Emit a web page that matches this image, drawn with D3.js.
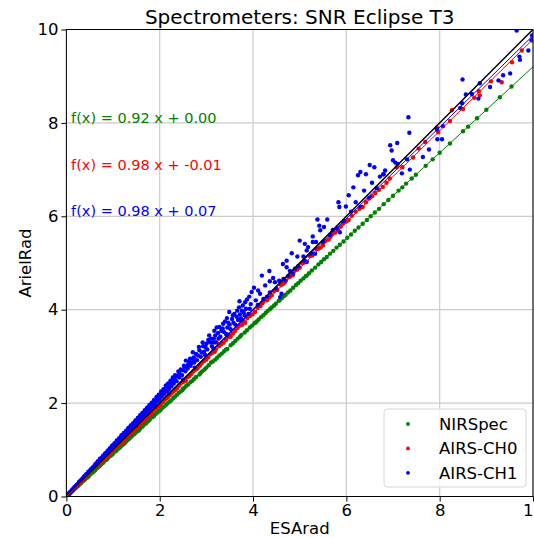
<!DOCTYPE html>
<html>
<head>
<meta charset="utf-8">
<script src="https://cdn.jsdelivr.net/npm/d3@7"></script>
<style>
  body { margin: 0; background: #fff; }
  svg { font-family: "DejaVu Sans", sans-serif; }
</style>
</head>
<body>
<div id="chart"></div>
<script>
// Series names and fitted lines (slope, intercept)
const seriesNames = ['NIRSpec', 'AIRS-CH0', 'AIRS-CH1'];
const seriesColors = ['#008000', '#ff0000', '#0000ff'];
const fitSlopes = [0.92, 0.98, 0.98];
const fitIntercepts = [0.00, -0.01, 0.07];
const ticks = [0, 2, 4, 6, 8, 10];

// [ESArad, ArielRad]
const nirspec = [
  [0.03,0.03],[0.06,0.05],[0.09,0.08],[0.12,0.11],[0.16,0.15],[0.2,0.18],[0.24,0.22],[0.28,0.26],
  [0.32,0.29],[0.36,0.33],[0.4,0.37],[0.44,0.4],[0.48,0.44],[0.5,0.47],[0.53,0.49],[0.57,0.52],
  [0.62,0.57],[0.66,0.61],[0.7,0.66],[0.71,0.65],[0.75,0.69],[0.8,0.74],[0.85,0.78],[0.9,0.83],
  [0.95,0.87],[1.0,0.92],[1.06,0.97],[1.11,1.02],[1.15,1.05],[1.17,1.08],[1.22,1.12],[1.28,1.18],
  [1.34,1.23],[1.4,1.29],[1.46,1.34],[1.52,1.4],[1.55,1.41],[1.58,1.45],[1.65,1.52],[1.71,1.57],
  [1.78,1.64],[1.8,1.67],[1.85,1.7],[1.92,1.77],[1.99,1.83],[2.06,1.9],[2.14,1.97],[2.21,2.03],
  [2.25,2.06],[2.29,2.11],[2.37,2.18],[2.45,2.25],[2.5,2.31],[2.53,2.33],[2.61,2.4],[2.7,2.48],
  [2.78,2.56],[2.85,2.61],[2.87,2.64],[2.96,2.72],[3.05,2.81],[3.1,2.87],[3.14,2.89],[3.23,2.97],
  [3.33,3.06],[3.42,3.15],[3.45,3.16],[3.52,3.24],[3.62,3.33],[3.72,3.42],[3.75,3.46],[3.82,3.51],
  [3.93,3.62],[4.03,3.71],[4.05,3.72],[4.12,3.79],[4.22,3.88],[4.31,3.97],[4.4,4.05],[4.49,4.13],
  [4.55,4.19],[4.57,4.2],[4.66,4.29],[4.75,4.37],[4.8,4.41],[4.86,4.47],[4.97,4.57],[5.08,4.67],
  [5.15,4.73],[5.2,4.78],[5.33,4.9],[5.46,5.02],[5.58,5.13],[5.72,5.26],[5.86,5.39],[6.02,5.54],
  [6.18,5.69],[6.35,5.84],[6.52,6.0],[6.7,6.16],[6.9,6.35],[7.12,6.55],[7.28,6.7],[7.4,6.81],
  [7.49,6.89],[7.7,7.08],[7.85,7.22],[8.0,7.36],[8.22,7.56],[8.5,7.82],[8.61,7.92],[8.8,8.1],
  [9.0,8.28],[9.29,8.55],[9.54,8.78],
  [0.14,0.13],[0.26,0.24],[0.38,0.35],[0.46,0.42],[0.59,0.54],[0.68,0.63],[0.78,0.72],[0.87,0.8],
  [0.98,0.9],[1.08,1.0],[1.19,1.1],[1.25,1.14],[1.31,1.21],[1.37,1.26],[1.43,1.32],[1.49,1.37],
  [1.62,1.49],[1.68,1.55],[1.75,1.61],[1.88,1.73],[1.95,1.8],[2.02,1.85],[2.1,1.93],[2.17,2.0],
  [2.33,2.14],[2.41,2.22],[2.49,2.28],[2.57,2.37],[2.66,2.45],[2.74,2.52],[2.91,2.68],[3.0,2.76],
  [3.19,2.93],[3.28,3.02],[3.38,3.11],[3.57,3.28],[3.67,3.38],[3.87,3.56],[3.98,3.66],[4.08,3.75],
  [4.17,3.84],[4.27,3.93],[4.36,4.01],[4.45,4.09],[4.62,4.25],[4.7,4.32],[4.92,4.53],[5.02,4.62],
  [5.13,4.72],[5.26,4.84],[5.4,4.97],[5.52,5.08],[5.65,5.2],[5.79,5.33],[5.94,5.46],[6.1,5.61],
  [6.26,5.76],[6.44,5.92],[6.61,6.08],[6.8,6.26],[7.0,6.44],[7.2,6.62]
];

const airsCh0 = [
  [0.04,0.04],[0.08,0.07],[0.12,0.11],[0.17,0.16],[0.21,0.2],[0.26,0.25],[0.3,0.29],[0.35,0.34],
  [0.4,0.38],[0.45,0.44],[0.5,0.48],[0.55,0.54],[0.6,0.58],[0.66,0.64],[0.71,0.69],[0.77,0.75],
  [0.82,0.8],[0.88,0.85],[0.94,0.92],[1.0,0.97],[1.06,1.04],[1.12,1.09],[1.18,1.16],[1.21,1.13],
  [1.25,1.22],[1.31,1.29],[1.38,1.34],[1.44,1.42],[1.51,1.47],[1.58,1.55],[1.65,1.61],[1.72,1.69],
  [1.79,1.75],[1.87,1.84],[1.94,1.9],[2.02,1.98],[2.1,2.07],[2.17,2.12],[2.25,2.21],[2.33,2.28],
  [2.41,2.37],[2.5,2.45],[2.56,2.48],[2.6,2.56],[2.68,2.63],[2.77,2.72],[2.86,2.8],[2.95,2.9],
  [2.99,3.02],[3.04,2.98],[3.13,3.08],[3.2,3.15],[3.22,3.3],[3.32,3.26],[3.42,3.35],[3.5,3.45],
  [3.52,3.42],[3.62,3.55],[3.72,3.66],[3.8,3.76],[3.83,3.72],[3.94,3.87],[4.04,3.95],[4.1,4.04],
  [4.16,4.08],[4.25,4.2],[4.3,4.2],[4.4,4.31],[4.45,4.4],[4.52,4.42],[4.6,4.53],[4.68,4.58],
  [4.76,4.7],[4.85,4.74],[4.9,4.85],[5.0,4.9],[5.05,5.0],[5.15,5.03],[5.22,5.15],[5.3,5.2],
  [5.36,5.3],[5.45,5.33],[5.55,5.47],[5.62,5.5],[5.7,5.62],[5.82,5.7],[5.93,5.85],[6.05,5.92],
  [6.2,6.1],[6.35,6.2],[6.48,6.38],[6.62,6.5],[6.78,6.63],[6.93,6.81],[7.08,7.05],[7.2,7.05],
  [7.43,7.26],[7.55,7.45],[7.69,7.59],[7.94,7.9],[7.97,7.8],[8.22,8.04],[8.26,8.27],[8.5,8.3],
  [8.74,8.54],[8.84,8.68],[8.86,8.59],[9.1,8.89],[9.33,8.87],[9.55,9.3],[9.76,9.55],[10.0,9.77],
  [0.14,0.14],[0.24,0.23],[0.33,0.33],[0.42,0.41],[0.48,0.47],[0.58,0.57],[0.63,0.62],[0.69,0.68],
  [0.74,0.72],[0.8,0.79],[0.85,0.83],[0.91,0.89],[0.97,0.95],[1.03,1.0],[1.09,1.07],[1.15,1.12],
  [1.28,1.25],[1.35,1.33],[1.41,1.37],[1.48,1.45],[1.55,1.51],[1.62,1.59],[1.69,1.65],[1.76,1.73],
  [1.83,1.78],[1.91,1.88],[1.98,1.93],[2.06,2.02],[2.14,2.1],[2.21,2.17],[2.29,2.25],[2.37,2.31],
  [2.45,2.42],[2.54,2.49],[2.64,2.58],[2.72,2.68],[2.81,2.74],[2.9,2.86],[3.0,2.93],[3.09,3.05],
  [3.18,3.1],[3.27,3.22],[3.37,3.29],[3.47,3.42],[3.57,3.49],[3.67,3.61],[3.77,3.68],[3.88,3.82],
  [3.99,3.9],[4.2,4.14],[4.35,4.26],[4.5,4.44],[4.64,4.55],[4.8,4.71],[4.95,4.86],[5.1,5.01],
  [5.27,5.16],[5.41,5.31],[5.5,5.38],[5.66,5.56],[5.76,5.65],[5.88,5.78],[6.0,5.89],[6.12,6.01],
  [6.28,6.16],[6.42,6.3],[6.55,6.43],[6.7,6.57],[6.86,6.72]
];

const airsCh1 = [
  [0.02,0.03],[0.05,0.06],[0.07,0.08],[0.1,0.11],[0.12,0.14],[0.15,0.16],[0.17,0.2],[0.2,0.22],
  [0.22,0.25],[0.25,0.27],[0.27,0.31],[0.3,0.33],[0.32,0.36],[0.35,0.38],[0.37,0.42],[0.4,0.44],
  [0.42,0.47],[0.45,0.49],[0.47,0.53],[0.5,0.54],[0.52,0.58],[0.55,0.6],[0.57,0.63],[0.6,0.65],
  [0.62,0.69],[0.65,0.71],[0.67,0.75],[0.7,0.76],[0.72,0.81],[0.75,0.82],[0.78,0.86],[0.8,0.88],
  [0.83,0.92],[0.85,0.93],[0.88,0.97],[0.9,0.99],[0.93,1.03],[0.95,1.04],[0.98,1.09],[1.0,1.1],
  [1.03,1.14],[1.05,1.13],[1.08,1.2],[1.1,1.17],[1.13,1.25],[1.15,1.22],[1.18,1.31],[1.2,1.27],
  [1.23,1.36],[1.25,1.31],[1.28,1.41],[1.3,1.38],[1.33,1.47],[1.35,1.42],[1.38,1.52],[1.4,1.48],
  [1.43,1.57],[1.45,1.52],[1.48,1.63],[1.5,1.58],[1.53,1.68],[1.55,1.62],[1.58,1.74],[1.6,1.68],
  [1.63,1.79],[1.65,1.73],[1.68,1.85],[1.7,1.78],[1.73,1.9],[1.75,1.83],[1.78,1.96],[1.8,1.89],
  [1.83,2.01],[1.85,1.94],[1.88,2.07],[1.9,1.99],[1.93,2.13],[1.95,2.04],[1.98,2.18],[2.0,2.09],
  [2.03,2.25],[2.05,2.15],[2.08,2.3],[2.1,2.2],[2.13,2.38],[2.15,2.26],[2.18,2.42],[2.2,2.3],
  [2.23,2.48],[2.25,2.36],[2.28,2.55],[2.3,2.42],[2.33,2.6],[2.36,2.47],[2.4,2.68],[2.42,2.55],
  [2.45,2.72],[2.48,2.6],[2.52,2.8],[2.55,2.68],[2.56,2.91],[2.6,2.74],[2.63,2.88],[2.66,2.8],
  [2.71,3.09],[2.7,2.95],[2.74,2.87],[2.78,3.05],[2.8,2.92],[2.85,3.13],[2.88,2.99],[2.92,3.3],
  [2.95,3.1],[2.98,3.2],[3.02,3.15],[3.06,3.45],[3.08,3.3],[3.12,3.22],[3.17,3.55],[3.16,3.38],
  [3.2,3.3],[3.25,3.5],[3.28,3.63],[3.3,3.42],[3.35,3.6],[3.38,3.52],[3.4,3.75],[3.45,3.62],
  [3.49,3.95],[3.5,3.68],[3.55,3.8],[3.6,3.91],[3.58,3.72],[3.65,3.85],[3.7,4.05],[3.71,4.18],
  [3.72,3.9],[3.76,3.98],[3.78,4.09],[3.8,3.95],[3.83,4.16],[3.85,4.02],[3.9,3.91],[3.93,4.02],
  [3.95,4.12],[4.02,4.47],[4.06,4.2],[4.1,4.1],[4.11,4.41],[4.15,4.34],[4.19,4.73],[4.22,4.23],
  [4.26,4.52],[4.3,4.28],[4.35,4.83],[4.36,4.61],[4.36,4.37],[4.43,4.68],[4.47,4.59],[4.5,4.45],
  [4.56,4.62],[4.58,4.27],[4.61,4.34],[4.64,4.98],[4.65,4.66],[4.7,4.62],[4.72,4.91],[4.72,5.05],
  [4.76,4.73],[4.79,4.83],[4.83,5.21],[4.86,4.77],[4.9,4.88],[4.95,5.14],[4.97,4.93],[5.0,5.48],
  [5.08,5.14],[5.1,5.05],[5.11,5.41],[5.15,5.27],[5.15,5.02],[5.18,5.34],[5.25,5.2],[5.28,5.57],
  [5.28,5.45],[5.33,5.2],[5.35,5.45],[5.38,5.93],[5.42,5.8],[5.44,5.7],[5.5,5.45],[5.52,5.77],
  [5.59,5.93],[5.65,5.6],[5.71,5.71],[5.8,5.74],[5.83,6.3],[5.85,6.2],[5.86,5.66],[5.95,5.9],
  [5.99,6.21],[6.05,6.45],[6.1,6.1],[6.15,6.62],[6.2,6.3],[6.25,6.88],[6.3,6.2],[6.3,6.95],
  [6.38,6.55],[6.42,6.9],[6.5,6.4],[6.5,7.1],[6.55,6.72],[6.6,7.05],[6.65,6.6],[6.72,6.85],
  [6.79,6.9],[6.8,6.9],[6.83,6.98],[6.94,7.52],[6.97,7.41],[7.0,7.2],[7.05,7.15],[7.09,7.57],
  [7.1,7.12],[7.19,6.92],[7.3,7.22],[7.33,8.12],[7.35,7.79],[7.36,7.0],[7.64,7.27],[7.77,7.43],
  [7.94,7.86],[7.95,7.65],[8.05,7.65],[8.07,7.93],[8.44,8.32],[8.48,8.42],[8.49,8.93],[8.56,8.61],
  [8.69,8.62],[8.83,8.52],[8.86,8.85],[9.08,8.77],[9.26,8.91],[9.36,9.02],[9.51,9.06],[9.65,9.98],
  [9.71,9.42],[9.72,9.35],[9.9,9.55],[9.97,9.77],[9.98,9.87],
  [0.04,0.05],[0.09,0.1],[0.14,0.15],[0.19,0.21],[0.24,0.26],[0.29,0.32],[0.34,0.37],[0.39,0.43],
  [0.44,0.48],[0.49,0.53],[0.54,0.59],[0.59,0.64],[0.64,0.7],[0.69,0.75],[0.74,0.8],[0.79,0.87],
  [0.84,0.9],[0.89,0.96],[0.94,1.01],[0.99,1.06],[1.02,1.1],[1.07,1.16],[1.12,1.21],[1.17,1.27],
  [1.22,1.32],[1.27,1.37],[1.32,1.44],[1.37,1.49],[1.42,1.55],[1.47,1.6],[1.52,1.64],[1.57,1.7],
  [1.62,1.76],[1.67,1.81],[1.72,1.87],[1.77,1.92],[1.82,1.97],[1.87,2.03],[1.92,2.08],[1.97,2.14],
  [2.02,2.19],[2.07,2.24],[2.12,2.31],[2.17,2.35],[2.22,2.41],[2.27,2.47],[2.32,2.52],[2.37,2.58],
  [2.42,2.63],[2.47,2.7],[2.51,2.72],[2.57,2.78],[2.61,2.83],[2.65,2.95],[2.68,2.86],[2.73,2.98],
  [2.76,2.93],[2.82,3.02],[2.84,3.2],[2.9,3.08],[2.93,3.22],[2.97,3.03],[3.0,3.27],[3.04,3.35],
  [3.1,3.38],[3.14,3.3],[3.19,3.45],[3.22,3.62],[3.26,3.38],[3.32,3.55],[3.36,3.7],[3.42,3.48],
  [3.44,3.82],[3.47,3.72],[3.52,3.58],[3.57,3.88],[3.62,3.68],[3.66,3.98],[3.68,3.78],[3.74,3.82],
  [3.82,3.88],[3.87,4.22],[3.92,4.28],[3.97,4.38],[1.5,1.51],[1.9,1.92],[2.2,2.21],[2.5,2.5],
  [2.75,2.76],[3.15,3.17],[3.45,3.47],[3.75,3.77]
];

const allSeries = [nirspec, airsCh0, airsCh1];

// Layout
var width = 534, height = 538;
var margin = {top: 29.5, right: 1, bottom: 41.5, left: 66.4};
var innerW = width - margin.left - margin.right;
var innerH = height - margin.top - margin.bottom;

var svg = d3.select('#chart').append('svg')
    .attr('width', width)
    .attr('height', height);

var x = d3.scaleLinear().domain([0, 10]).range([0, innerW]);
var y = d3.scaleLinear().domain([0, 10]).range([innerH, 0]);

var g = svg.append('g').attr('transform', `translate(${margin.left},${margin.top})`);

svg.append('defs').append('clipPath').attr('id', 'plotclip')
    .append('rect').attr('width', innerW).attr('height', innerH);

// Grid
g.append('g').selectAll('line.gx')
    .data(ticks).enter().append('line')
    .attr('x1', d => x(d)).attr('x2', d => x(d))
    .attr('y1', 0).attr('y2', innerH)
    .attr('stroke', '#cbcbcb').attr('stroke-width', 1.2);
g.append('g').selectAll('line.gy')
    .data(ticks).enter().append('line')
    .attr('y1', d => y(d)).attr('y2', d => y(d))
    .attr('x1', 0).attr('x2', innerW)
    .attr('stroke', '#cbcbcb').attr('stroke-width', 1.2);

var plot = g.append('g').attr('clip-path', 'url(#plotclip)');

// Scatter
allSeries.forEach(function(data, i) {
    plot.append('g').selectAll('circle')
        .data(data).enter().append('circle')
        .attr('cx', d => x(d[0]))
        .attr('cy', d => y(d[1]))
        .attr('r', 2.2)
        .attr('fill', seriesColors[i]);
});

// 1:1 line and fitted lines
plot.append('line')
    .attr('x1', x(0)).attr('y1', y(0))
    .attr('x2', x(10)).attr('y2', y(10))
    .attr('stroke', '#000').attr('stroke-width', 1.5);

fitSlopes.forEach(function(m, i) {
    var b = fitIntercepts[i];
    plot.append('line')
        .attr('x1', x(0)).attr('y1', y(b))
        .attr('x2', x(10)).attr('y2', y(m * 10 + b))
        .attr('stroke', seriesColors[i]).attr('stroke-width', 1);
});

// Fit annotations
fitSlopes.forEach(function(m, i) {
    g.append('text')
        .attr('x', x(0.1))
        .attr('y', y(8 - i))
        .attr('fill', seriesColors[i])
        .style('font-size', '14.5px')
        .text('f(x) = ' + m.toFixed(2) + ' x + ' + fitIntercepts[i].toFixed(2));
});

// Axes
var xAxis = g.append('g')
    .attr('transform', `translate(0,${innerH})`)
    .call(d3.axisBottom(x).tickValues(ticks).tickFormat(d3.format('d')).tickSize(5).tickPadding(3));
var yAxis = g.append('g')
    .call(d3.axisLeft(y).tickValues(ticks).tickFormat(d3.format('d')).tickSize(5).tickPadding(3));

[xAxis, yAxis].forEach(function(a) {
    a.select('.domain').remove();
    a.selectAll('text').style('font-size', '16.5px').style('font-family', '"DejaVu Sans", sans-serif').attr('fill', '#000');
    a.selectAll('line').attr('stroke', '#000');
});

// Spines
g.append('rect')
    .attr('width', innerW).attr('height', innerH)
    .attr('fill', 'none').attr('stroke', '#000').attr('stroke-width', 1);

// Titles
svg.append('text')
    .attr('x', margin.left + innerW / 2).attr('y', 24)
    .attr('text-anchor', 'middle')
    .style('font-size', '20px')
    .text('Spectrometers: SNR Eclipse T3');

svg.append('text')
    .attr('x', margin.left + innerW / 2).attr('y', 534)
    .attr('text-anchor', 'middle')
    .style('font-size', '16.5px')
    .text('ESArad');

svg.append('text')
    .attr('transform', `translate(31,${margin.top + innerH / 2}) rotate(-90)`)
    .attr('text-anchor', 'middle')
    .style('font-size', '16.5px')
    .text('ArielRad');

// Legend
var legend = svg.append('g').attr('transform', 'translate(384,409)');
legend.append('rect')
    .attr('width', 142).attr('height', 78).attr('rx', 3)
    .attr('fill', '#fff').attr('fill-opacity', 0.85)
    .attr('stroke', '#d6d6d6');
seriesNames.forEach(function(name, i) {
    var row = legend.append('g').attr('transform', `translate(0,${15 + i * 24.4})`);
    row.append('circle').attr('cx', 24).attr('cy', 0).attr('r', 1.9).attr('fill', seriesColors[i]);
    row.append('text').attr('x', 55).attr('y', 0).attr('dy', '0.35em')
        .style('font-size', '16.5px').text(name);
});
</script>
</body>
</html>
